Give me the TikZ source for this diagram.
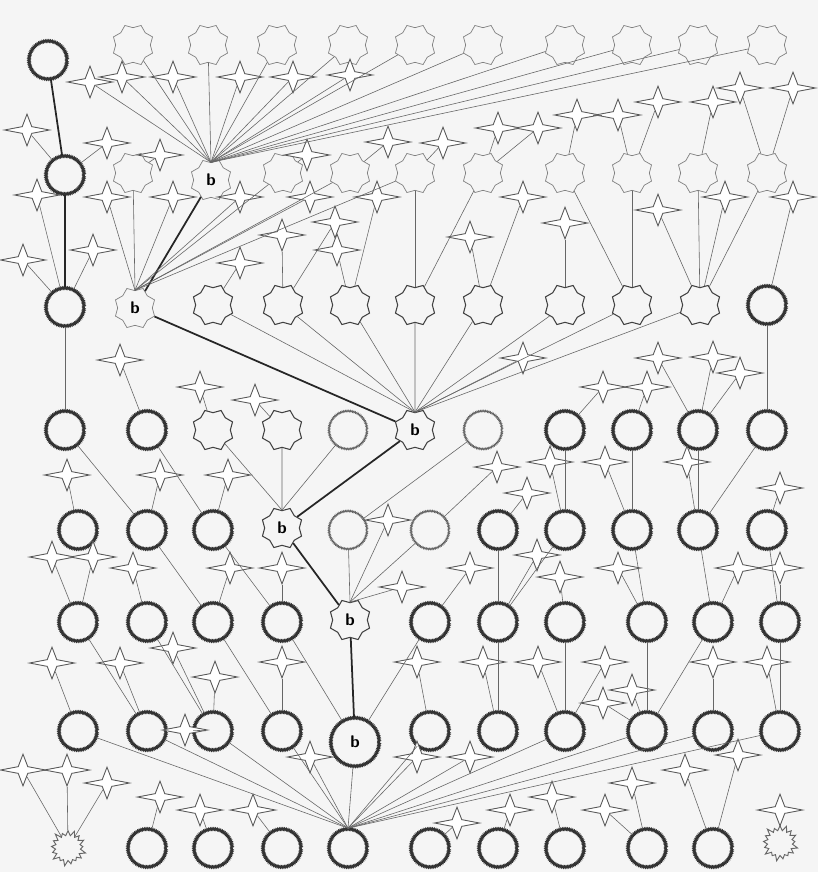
\documentclass[tikz,border=0pt]{standalone}
\usetikzlibrary{shapes.geometric,shapes.symbols,decorations.pathmorphing}
\begin{document}
\begin{tikzpicture}[x=0.3mm,y=-0.3mm,
  octa/.style={star,star points=8,star point ratio=0.82,minimum size=10.4mm,inner sep=0pt,draw=black!50,line width=0.6pt,fill=black!4},
  octamix/.style={octa,draw=black!75,line width=0.9pt},
  ring/.style={circle,minimum size=11.4mm,inner sep=0pt,draw=black!80,line width=1.4pt,fill=black!4,decorate,decoration={zigzag,segment length=1.4pt,amplitude=0.6pt}},
  ringlt/.style={ring,draw=black!60,line width=0.8pt},
  spark/.style={star,star points=4,star point ratio=0.3,minimum size=3mm,inner sep=0pt,shape border rotate=45,xscale=1.35,yscale=0.95,draw=black!65,line width=0.75pt,fill=white},
  blob/.style={starburst,starburst points=17,starburst point height=2mm,minimum size=11.5mm,inner sep=0pt,draw=black!60,line width=0.8pt,fill=black!4},
  hub/.style={font=\sffamily\bfseries\Large},
  ln/.style={draw=black!60,line width=0.5pt},
  hv/.style={draw=black!85,line width=1.5pt}]
\useasboundingbox (0,0) rectangle (818,872);
\fill[black!4] (0,0) rectangle (818,872);
% grid rows
\node[ring] (a0) at (48,60) {};
\foreach \x [count=\i] in {133,208,277,348,415,483,565,632,698,767}
  \node[octa] (a\i) at (\x,45) {};
\node[ring] (b0) at (65,175) {};
\foreach \x/\i in {133/1,283/3,350/4,415/5,483/6,565/7,632/8,698/9,767/10}
  \node[octa] (b\i) at (\x,173) {};
\node[octa,hub] (b2) at (211,180) {b};
\node[ring] (c0) at (65,307) {};
\node[octa,hub] (c1) at (135,308) {b};
\foreach \x [count=\i from 2] in {213,283,350,415,483,565,632,700}
  \node[octamix] (c\i) at (\x,305) {};
\node[ring] (c10) at (767,305) {};
\foreach \x/\i/\s in {65/0/ring,147/1/ring,213/2/octamix,282/3/octamix,348/4/ringlt,483/6/ringlt,565/7/ring,632/8/ring,698/9/ring,767/10/ring}
  \node[\s] (d\i) at (\x,430) {};
\node[octamix,hub] (d5) at (415,430) {b};
\foreach \x/\i/\s in {78/0/ring,147/1/ring,213/2/ring,348/4/ringlt,430/5/ringlt,498/6/ring,565/7/ring,632/8/ring,698/9/ring,767/10/ring}
  \node[\s] (e\i) at (\x,530) {};
\node[octamix,hub] (e3) at (282,528) {b};
\foreach \x/\i in {78/0,147/1,213/2,282/3,430/5,498/6,565/7,647/8,713/9,780/10}
  \node[ring] (f\i) at (\x,622) {};
\node[octamix,hub] (f4) at (350,620) {b};
\foreach \x/\i in {78/0,147/1,213/2,282/3,430/5,498/6,565/7,647/8,713/9,780/10}
  \node[ring] (g\i) at (\x,731) {};
\node[ring,hub,minimum size=14.5mm] (g4) at (355,742) {b};
\node[blob] (h0) at (68,848) {};
\foreach \x/\i in {147/1,213/2,282/3,348/4,430/5,498/6,565/7,647/8,713/9}
  \node[ring] (h\i) at (\x,848) {};
\node[blob] (h10) at (780,843) {};
% sparks
\foreach \x/\y [count=\i] in {90/82,122/77,173/77,240/77,293/77,350/75,27/130,107/143,160/155,307/155,
  37/195,107/197,173/197,240/197,310/197,377/197,388/142,282/235,335/222,337/250,
  240/263,93/250,23/260,443/143,498/128,538/128,577/115,618/115,658/102,713/102,
  740/88,793/88,523/197,470/237,565/223,658/210,725/197,793/197,120/360,200/387,
  255/400,67/475,160/475,228/475,388/520,52/557,93/557,133/568,230/568,282/568,
  402/587,523/358,603/387,647/387,658/358,713/357,740/373,497/467,527/493,550/462,
  605/462,687/462,780/488,470/568,537/555,560/577,618/568,738/568,780/568,52/663,
  120/663,173/648,215/677,282/662,185/730,310/757,23/770,67/770,107/783,160/797,
  200/810,253/810,417/757,417/662,483/662,538/662,605/662,632/690,603/703,713/662,
  767/662,470/757,738/755,685/770,632/783,552/797,510/810,605/810,457/823,780/810}
  \node[spark] (s\i) at (\x,\y) {};
% main path
\foreach \p/\q in {a0/b0,b0/c0,b2/c1,c1/d5,d5/e3,e3/f4,f4/g4}
  \draw[hv] (\p) -- (\q);
% fans
\foreach \q in {s1,s2,a1,s3,a2,s4,a3,s5,a4,s6,a5,a6,a7,a8,a9,a10}
  \draw[ln] (b2.north) -- (\q);
\foreach \q in {s12,b1,s13,s14,b3,s15,b4,b5}
  \draw[ln] (c1.north) -- (\q);
\foreach \q in {c2,c3,c4,c5,c6,c7,c8,c9,s52}
  \draw[ln] (d5.north) -- (\q);
\foreach \q in {d2,d3,d4}
  \draw[ln] (e3.north) -- (\q);
\foreach \q in {e4,e5,s45,s51}
  \draw[ln] (f4.north) -- (\q);
\foreach \q in {g0,g1,g2,g3,s76,g4,s83,s92,g5,g7,g8,g9,g10}
  \draw[ln] (h4.north) -- (\q);
% local links
\foreach \p/\q in {s7/b0,s8/b0,s11/c0,s22/c0,s23/c0,c0/d0,s9/b1,s10/b3,s17/b4,s24/b5,
  s25/b6,s26/b6,s27/b7,s27/s28,s28/b8,s29/b8,s30/b9,s31/b10,s32/b10,
  s18/c3,s19/c3,s20/c4,s16/c4,s21/c2,b5/c5,b6/c5,s33/c6,s34/c6,s35/c7,b7/c8,b8/c8,
  s36/c9,b9/c9,s37/c9,b10/c9,s38/c10,
  c10/d10,s39/d1,s40/d2,s41/d3,s53/d7,s54/d8,s53/s54,s55/d9,s56/d9,s57/d9,
  d0/e1,s42/e0,s43/e1,d1/e2,s44/e2,d6/e4,s58/e5,s59/e6,d7/e7,s60/e7,d8/e8,s61/e8,
  d9/e9,s62/e9,d10/e9,s63/e10,
  s46/f0,s47/f0,s48/f1,e1/f2,s49/f2,e2/f3,s50/f3,e6/f6,s64/f5,s65/f6,e7/f6,s66/f7,
  s67/f8,e8/f8,e9/f9,s68/f9,e10/f10,s69/f10,
  s70/g0,f0/g1,s71/g1,f1/g2,s72/g2,s73/g2,f2/g3,s74/g3,f3/g4,s75/g2,g4/f5,s84/g5,
  s85/g6,f6/g6,s86/g7,f7/g7,s87/g7,s88/g8,s89/g8,f8/g8,f9/g8,s90/g9,s91/g10,f10/g10,
  s77/h0,s78/h0,s77/s78,s79/h0,s80/h1,s81/h2,s82/h3,s99/h5,s97/h6,s96/h7,s98/h8,
  s95/h8,s94/h9,s93/h9,s100/h10}
  \draw[ln] (\p) -- (\q);
\end{tikzpicture}
\end{document}
